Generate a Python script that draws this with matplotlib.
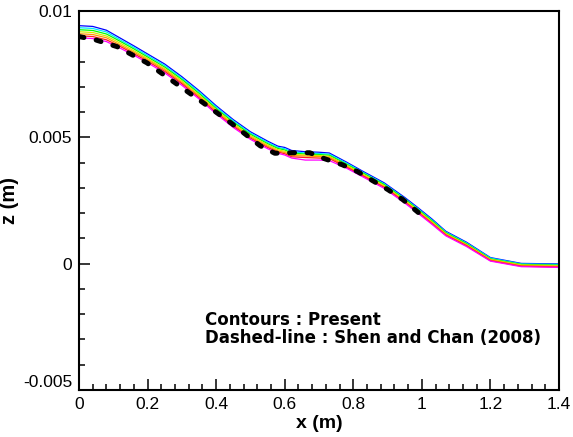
import numpy as np
import matplotlib
matplotlib.use('Agg')
import matplotlib.pyplot as plt
import matplotlib.ticker as mticker

plt.rcParams['font.family'] = ['Liberation Sans', 'DejaVu Sans']

# contour x positions (m)
x_c = [0.0, 0.04, 0.08, 0.12, 0.16, 0.2, 0.25, 0.3, 0.35, 0.4, 0.45, 0.5, 0.55, 0.58,
       0.6, 0.62, 0.66, 0.7, 0.73, 0.78, 0.83, 0.89, 0.95, 0.99, 1.03, 1.07, 1.13,
       1.2, 1.29, 1.4]

# contour levels, z in units of 1e-5 m (top -> bottom)
z_blue = [942, 939, 924, 893, 862, 830, 790, 740, 685, 625, 570, 522, 485, 465,
          460, 448, 443, 441, 438, 402, 364, 320, 262, 220, 176, 128, 85, 24, 1, -1]
z_cyan = [934, 931, 917, 886, 856, 824, 784, 734, 680, 620, 565, 517, 480, 460,
          455, 443, 438, 436, 433, 398, 360, 316, 258, 216, 172, 125, 82, 22, -1, -3]
z_green = [926, 923, 909, 880, 850, 818, 778, 729, 674, 614, 560, 512, 475, 456,
           450, 438, 434, 432, 429, 394, 357, 313, 255, 213, 169, 122, 79, 19, -3, -6]
z_yellow = [918, 915, 901, 873, 843, 812, 772, 723, 668, 609, 554, 507, 470, 451,
            445, 433, 430, 428, 425, 390, 353, 309, 251, 209, 165, 119, 76, 17, -5, -8]
z_orange = [910, 907, 894, 866, 837, 807, 767, 717, 663, 604, 549, 502, 465, 446,
            440, 428, 426, 424, 421, 386, 349, 305, 247, 205, 162, 116, 74, 15, -8, -10]
z_red = [902, 899, 886, 860, 831, 801, 761, 712, 657, 598, 544, 497, 460, 442,
         435, 423, 420, 418, 416, 382, 346, 302, 244, 202, 158, 113, 71, 12, -10, -13]
z_magenta = [894, 891, 879, 853, 825, 795, 755, 706, 652, 593, 539, 492, 455, 437,
             430, 418, 410, 410, 408, 378, 342, 298, 240, 198, 155, 110, 68, 10, -12, -15]

contours = [z_blue, z_cyan, z_green, z_yellow, z_orange, z_red, z_magenta]
colors = ['#0000ff', '#00e5ff', '#00ff00', '#d8e800', '#ff9900', '#ff2020', '#ff00ff']

# Shen and Chan (2008)
x_shen = [0.0, 0.05, 0.111, 0.198, 0.28, 0.362, 0.446, 0.528, 0.571, 0.621, 0.673,
          0.717, 0.767, 0.813, 0.857, 0.901, 0.945, 0.99]
z_shen = [0.00899, 0.00885, 0.00859, 0.00795, 0.00716, 0.00637, 0.00554, 0.00467,
          0.00437, 0.00439, 0.00439, 0.00415, 0.00392, 0.00364, 0.00328, 0.00293,
          0.00253, 0.00202]

fig = plt.figure(figsize=(5.73, 4.37), dpi=100)
ax = fig.add_axes([0.1379, 0.1076, 0.8377, 0.8672])

for z, c in zip(contours, colors):
    ax.plot(x_c, np.array(z) * 1e-5, color=c, lw=0.9)

ax.plot(x_shen, z_shen, color='black', lw=3.6, dashes=(1.0, 2.5),
        dash_capstyle='round')

ax.set_xlim(0, 1.4)
ax.set_ylim(-0.005, 0.01)
ax.set_xticks([0, 0.2, 0.4, 0.6, 0.8, 1.0, 1.2, 1.4])
ax.set_xticklabels(['0', '0.2', '0.4', '0.6', '0.8', '1', '1.2', '1.4'])
ax.set_yticks([-0.005, 0, 0.005, 0.01])
ax.set_yticklabels(['-0.005', '0', '0.005', '0.01'])
ax.xaxis.set_minor_locator(mticker.MultipleLocator(0.04))
ax.yaxis.set_minor_locator(mticker.MultipleLocator(0.001))
ax.tick_params(which='both', direction='in', top=False, right=False,
               labelsize=12.5, width=1.1, pad=5)
ax.tick_params(which='major', length=8)
ax.tick_params(which='minor', length=4)
ax.get_yticklabels()[0].set_verticalalignment('bottom')
for s in ax.spines.values():
    s.set_linewidth(1.5)

ax.set_xlabel('x (m)', fontsize=14, fontweight='bold', labelpad=2)
ax.set_ylabel('z (m)', fontsize=14.5, fontweight='bold', labelpad=3)

ax.text(0.367, -0.00241, 'Contours : Present', fontsize=12, fontweight='bold',
        family='DejaVu Sans', va='baseline')
ax.text(0.367, -0.00313, 'Dashed-line : Shen and Chan (2008)', fontsize=12,
        fontweight='bold', family='DejaVu Sans', va='baseline')

fig.savefig('out.png', dpi=100)
